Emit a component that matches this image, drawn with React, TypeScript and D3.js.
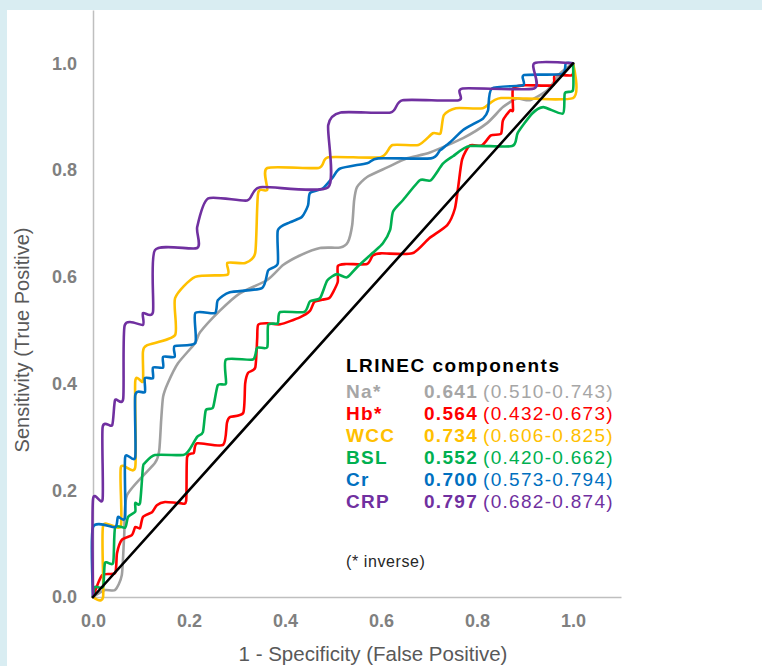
import React, { useRef, useEffect } from 'react';
import * as d3 from 'd3';

type Pt = [number, number];

const W = 762;
const H = 666;
const MARGIN = { top: 10, right: 141, bottom: 69, left: 93 };

const tickValues = [0, 0.2, 0.4, 0.6, 0.8, 1.0];

// ROC points: [1 - specificity, sensitivity]
const naPts: Pt[] = [
    [0, 0], [0.025, 0.013], [0.046, 0.013], [0.06, 0.041], [0.065, 0.116], [0.071, 0.191],
    [0.129, 0.251], [0.138, 0.275], [0.142, 0.331], [0.146, 0.375], [0.156, 0.401], [0.177, 0.438],
    [0.213, 0.476], [0.223, 0.496], [0.265, 0.537], [0.306, 0.569], [0.363, 0.594], [0.396, 0.622],
    [0.431, 0.64], [0.473, 0.654], [0.515, 0.655], [0.531, 0.665], [0.54, 0.697], [0.544, 0.743],
    [0.55, 0.768], [0.571, 0.787], [0.613, 0.805], [0.654, 0.822], [0.702, 0.833], [0.771, 0.86],
    [0.821, 0.888], [0.854, 0.918], [0.883, 0.934], [0.91, 0.931], [0.946, 0.949], [0.973, 0.981], [1, 1],
];

const hbPts: Pt[] = [
    [0, 0], [0.019, 0.041], [0.046, 0.045], [0.05, 0.082], [0.06, 0.107], [0.081, 0.116], [0.088, 0.131],
    [0.098, 0.129], [0.104, 0.15], [0.123, 0.159], [0.133, 0.172], [0.15, 0.178], [0.181, 0.176],
    [0.194, 0.18], [0.196, 0.262], [0.21, 0.27], [0.217, 0.288], [0.271, 0.285], [0.279, 0.326],
    [0.285, 0.337], [0.313, 0.345], [0.317, 0.4], [0.323, 0.42], [0.338, 0.43], [0.342, 0.483],
    [0.344, 0.51], [0.363, 0.513], [0.39, 0.511], [0.431, 0.524], [0.452, 0.536], [0.461, 0.553],
    [0.477, 0.557], [0.492, 0.56], [0.5, 0.571], [0.51, 0.591], [0.51, 0.62], [0.527, 0.624],
    [0.571, 0.624], [0.583, 0.64], [0.6, 0.644], [0.665, 0.644], [0.7, 0.672], [0.738, 0.697],
    [0.754, 0.728], [0.761, 0.77], [0.769, 0.82], [0.785, 0.846], [0.81, 0.846], [0.829, 0.865],
    [0.85, 0.868], [0.854, 0.893], [0.869, 0.912], [0.875, 0.912], [0.875, 0.953], [0.9, 0.959],
    [0.958, 0.959], [0.962, 0.978], [0.998, 0.978], [1, 1],
];

const wccPts: Pt[] = [
    [0, 0], [0.021, 0], [0.021, 0.133], [0.058, 0.133], [0.058, 0.243], [0.088, 0.243], [0.088, 0.404],
    [0.104, 0.404], [0.104, 0.459], [0.113, 0.472], [0.171, 0.491], [0.171, 0.56], [0.213, 0.6],
    [0.28, 0.604], [0.28, 0.626], [0.317, 0.626], [0.338, 0.645], [0.344, 0.757], [0.363, 0.763],
    [0.363, 0.804], [0.47, 0.804], [0.49, 0.824], [0.599, 0.824], [0.624, 0.847], [0.678, 0.847],
    [0.708, 0.869], [0.724, 0.869], [0.731, 0.903], [0.756, 0.916], [0.812, 0.916], [0.85, 0.935],
    [1.0, 0.935], [1.0, 1.0],
];

const bslPts: Pt[] = [
    [0, 0], [0.004, 0.019], [0.021, 0.019], [0.025, 0.064], [0.042, 0.064], [0.046, 0.13], [0.067, 0.13],
    [0.073, 0.15], [0.088, 0.16], [0.088, 0.176], [0.098, 0.176], [0.104, 0.243], [0.108, 0.251],
    [0.129, 0.266], [0.188, 0.266], [0.2, 0.275], [0.217, 0.3], [0.229, 0.309], [0.235, 0.35],
    [0.25, 0.355], [0.26, 0.397], [0.277, 0.4], [0.277, 0.445], [0.333, 0.445], [0.342, 0.467],
    [0.363, 0.468], [0.365, 0.51], [0.385, 0.513], [0.39, 0.534], [0.44, 0.534], [0.452, 0.554],
    [0.473, 0.56], [0.488, 0.593], [0.508, 0.605], [0.529, 0.599], [0.55, 0.618], [0.583, 0.645],
    [0.604, 0.663], [0.619, 0.688], [0.625, 0.722], [0.646, 0.744], [0.681, 0.781], [0.704, 0.781],
    [0.729, 0.812], [0.75, 0.826], [0.785, 0.845], [0.873, 0.845], [0.885, 0.87], [0.915, 0.906],
    [0.938, 0.918], [0.979, 0.906], [0.983, 0.944], [1.0, 0.95], [1.0, 1.0],
];

const crPts: Pt[] = [
    [0, 0], [0, 0.131], [0.046, 0.131], [0.052, 0.15], [0.067, 0.15], [0.067, 0.262], [0.088, 0.262],
    [0.088, 0.378], [0.108, 0.384], [0.108, 0.41], [0.125, 0.41], [0.125, 0.43], [0.146, 0.43],
    [0.146, 0.45], [0.17, 0.45], [0.17, 0.47], [0.213, 0.476], [0.213, 0.532], [0.254, 0.532],
    [0.26, 0.556], [0.285, 0.571], [0.352, 0.579], [0.365, 0.612], [0.385, 0.625], [0.385, 0.687],
    [0.41, 0.702], [0.435, 0.712], [0.448, 0.734], [0.452, 0.757], [0.479, 0.766], [0.5, 0.787],
    [0.515, 0.803], [0.571, 0.813], [0.594, 0.822], [0.704, 0.822], [0.723, 0.837], [0.744, 0.852],
    [0.771, 0.875], [0.796, 0.888], [0.813, 0.897], [0.823, 0.912], [0.831, 0.953], [0.896, 0.959],
    [0.898, 0.978], [0.977, 0.98], [0.985, 1.0], [1.0, 1.0],
];

const crpPts: Pt[] = [
    [0, 0], [0, 0.183], [0.02, 0.183], [0.02, 0.318], [0.04, 0.322], [0.046, 0.369], [0.063, 0.372],
    [0.066, 0.509], [0.104, 0.51], [0.104, 0.532], [0.125, 0.534], [0.129, 0.65], [0.217, 0.654],
    [0.217, 0.693], [0.24, 0.747], [0.321, 0.743], [0.348, 0.768], [0.49, 0.768], [0.49, 0.884],
    [0.516, 0.908], [0.62, 0.908], [0.645, 0.931], [0.762, 0.931], [0.77, 0.953], [0.919, 0.953],
    [0.919, 1.0], [1.0, 1.0],
];

const refPts: Pt[] = [[0, 0], [1, 1]];

const seriesNames = ['Na*', 'Hb*', 'WCC', 'BSL', 'Cr', 'CRP'];
const seriesAuc = ['0.641', '0.564', '0.734', '0.552', '0.700', '0.797'];
const seriesCi = ['(0.510-0.743)', '(0.432-0.673)', '(0.606-0.825)', '(0.420-0.662)', '(0.573-0.794)', '(0.682-0.874)'];
const seriesColors = ['#a0a0a0', '#ff0000', '#ffc000', '#00b050', '#0070c0', '#7030a0'];
const seriesPts = [naPts, hbPts, wccPts, bslPts, crPts, crpPts];

const FONT = '"Liberation Sans", Arial, sans-serif';

export default function App() {
    const xAxisRef = useRef<SVGGElement>(null);
    const yAxisRef = useRef<SVGGElement>(null);

    const x = d3.scaleLinear().domain([0, 1.1]).range([MARGIN.left, W - MARGIN.right]);
    const y = d3.scaleLinear().domain([0, 1.1]).range([H - MARGIN.bottom, MARGIN.top]);

    // smoothed lines, like the spreadsheet's "smooth line" option
    const line = d3.line<Pt>()
        .x(d => x(d[0]))
        .y(d => y(d[1]))
        .curve(d3.curveCardinal.tension(0.35));

    useEffect(() => {
        const fmt = d3.format('.1f');
        const xa = d3.select(xAxisRef.current!);
        xa.call(d3.axisBottom(x).tickValues(tickValues).tickFormat(d => fmt(d as number)).tickSize(0).tickPadding(17));
        const ya = d3.select(yAxisRef.current!);
        ya.call(d3.axisLeft(y).tickValues(tickValues).tickFormat(d => fmt(d as number)).tickSize(0).tickPadding(16));
        [xa, ya].forEach(a => {
            a.select('.domain').attr('stroke', '#bfbfbf').attr('stroke-width', 1.5);
            a.selectAll('text')
                .attr('fill', '#808080')
                .attr('font-size', '18px')
                .attr('font-weight', 'bold')
                .attr('font-family', FONT);
        });
    }, []);

    const legendX = 346;
    const valueX = 424;
    const ciX = 483;
    const rowY0 = 398;
    const rowStep = 22;

    return (
        <svg width={W} height={H} style={{ position: 'absolute', left: 0, top: 0, display: 'block' }}>
            <rect x={0} y={0} width={W} height={H} fill="#d9edf2" />
            <rect x={7} y={10} width={W - 7} height={H - 10} fill="#ffffff" />

            <g ref={xAxisRef} transform={`translate(0,${y(0)})`} />
            <g ref={yAxisRef} transform={`translate(${x(0)},0)`} />

            {seriesPts.map((pts, i) => (
                <path
                    key={seriesNames[i]}
                    d={line(pts) || ''}
                    fill="none"
                    stroke={seriesColors[i]}
                    strokeWidth={2.6}
                    strokeLinejoin="round"
                    strokeLinecap="round"
                />
            ))}
            <path d={line(refPts) || ''} fill="none" stroke="#000000" strokeWidth={2.6} strokeLinecap="round" />

            <text
                transform={`translate(29,${340}) rotate(-90)`}
                textAnchor="middle"
                fill="#595959"
                fontSize={20}
                fontFamily={FONT}
            >
                Sensitivity (True Positive)
            </text>
            <text x={373} y={661} textAnchor="middle" fill="#595959" fontSize={20.5} fontFamily={FONT}>
                1 - Specificity (False Positive)
            </text>

            <text x={legendX} y={372} fill="#000000" fontWeight="bold" fontSize={19} letterSpacing={1.5} fontFamily={FONT}>
                LRINEC components
            </text>
            {seriesNames.map((name, i) => (
                <g key={name} fontFamily={FONT} fontSize={19} letterSpacing={1.3} fill={seriesColors[i] === '#a0a0a0' ? '#a6a6a6' : seriesColors[i]}>
                    <text x={legendX} y={rowY0 + i * rowStep} fontWeight="bold">{name}</text>
                    <text x={valueX} y={rowY0 + i * rowStep} fontWeight="bold">{seriesAuc[i]}</text>
                    <text x={ciX} y={rowY0 + i * rowStep}>{seriesCi[i]}</text>
                </g>
            ))}
            <text x={legendX} y={567} fill="#262626" fontSize={16} letterSpacing={0.6} fontFamily={FONT}>
                (* inverse)
            </text>
        </svg>
    );
}
